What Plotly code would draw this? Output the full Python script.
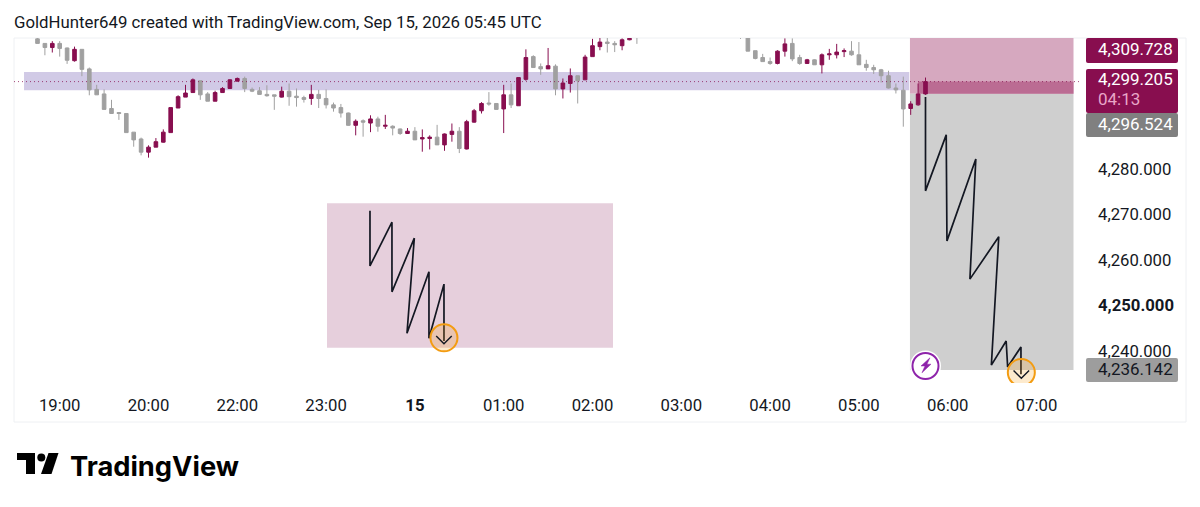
import plotly.graph_objects as go

W, H = 1200, 507
FONT = "Roboto"
INK = "#131722"
MAROON = "#880E4F"
GRAY = "#A0A0A0"

bar_index = list(range(1, 83)) + list(range(96, 122))
opens = [4308.6,4307.6,4306.7,4307.6,4306.6,4303.8,4306.3,4302.0,4297.5,4296.5,4293.3,4292.4,4292.2,4288.1,4286.6,4283.7,4284.8,4285.9,4288.0,4293.4,
         4295.8,4296.8,4299.4,4296.5,4294.9,4296.8,4297.7,4299.3,4299.9,4297.5,4297.2,4296.4,4296.3,4295.8,4297.1,4296.0,4295.7,4295.5,4296.4,4295.5,
         4294.1,4293.5,4292.3,4289.6,4290.6,4290.1,4291.0,4289.4,4289.4,4288.8,4287.8,4288.3,4286.6,4286.7,4287.0,4285.3,4287.6,4288.3,4284.4,4290.3,
         4292.8,4294.5,4294.4,4293.2,4296.3,4293.9,4299.7,4304.7,4302.5,4302.0,4302.6,4297.6,4298.8,4300.5,4299.6,4304.7,4306.9,4307.9,4307.6,4307.1,
         4308.4,4310.0,
         4311.0,4309.5,4306.0,4304.5,4303.6,4303.2,4305.9,4307.6,4304.5,4303.2,4304.0,4302.9,4305.1,4305.1,4305.8,4305.9,4305.1,4303.0,4302.3,4301.8,
         4300.5,4297.8,4297.3,4293.3,4294.1,4296.5]
highs = [4308.9,4307.6,4308.1,4308.1,4306.7,4306.9,4306.3,4302.3,4298.5,4297.5,4295.2,4292.5,4292.2,4288.1,4286.9,4285.2,4286.8,4288.7,4293.5,4296.2,
         4298.5,4299.9,4299.4,4296.9,4297.2,4298.0,4299.7,4300.1,4300.3,4297.9,4298.0,4298.4,4296.3,4298.1,4298.8,4297.7,4296.1,4298.5,4297.4,4297.5,
         4294.6,4294.3,4292.4,4290.9,4290.9,4291.8,4291.5,4291.9,4289.6,4288.9,4289.0,4289.2,4288.7,4287.4,4289.7,4287.8,4290.0,4289.2,4290.8,4293.2,
         4294.7,4296.9,4294.4,4298.5,4298.8,4300.1,4306.3,4305.0,4303.2,4306.6,4303.0,4299.9,4302.1,4300.5,4305.1,4308.6,4309.0,4309.2,4308.1,4308.7,
         4308.9,4311.0,
         4312.0,4310.0,4306.0,4305.3,4304.5,4306.1,4308.7,4308.7,4305.1,4304.2,4304.1,4305.4,4306.4,4307.5,4306.5,4308.1,4307.9,4304.0,4302.9,4302.0,
         4301.6,4298.8,4300.3,4294.9,4298.8,4300.1]
lows = [4307.6,4305.0,4305.6,4304.7,4303.1,4303.6,4300.4,4296.2,4296.3,4293.1,4292.1,4290.8,4288.0,4284.9,4283.0,4282.5,4284.8,4285.8,4288.0,4293.4,
        4295.8,4296.8,4295.2,4294.9,4294.9,4296.8,4297.7,4299.3,4296.9,4296.9,4296.4,4295.9,4293.0,4295.7,4293.9,4293.7,4294.6,4294.1,4293.4,4293.3,
        4292.6,4291.3,4289.5,4287.4,4287.1,4288.1,4288.2,4288.8,4287.4,4287.5,4287.7,4286.4,4283.8,4284.3,4285.3,4284.0,4286.0,4283.5,4284.3,4290.2,
        4292.2,4293.9,4293.1,4287.9,4293.4,4293.9,4299.4,4302.3,4300.7,4302.0,4296.2,4295.5,4296.8,4294.4,4299.6,4304.7,4306.1,4305.6,4305.7,4306.1,
        4308.3,4307.5,
        4308.6,4305.9,4304.1,4303.6,4302.9,4303.0,4304.7,4303.7,4302.9,4303.1,4302.9,4301.0,4304.0,4304.3,4304.6,4304.9,4302.9,4301.6,4300.9,4299.0,
        4297.7,4296.6,4289.3,4291.9,4293.9,4296.3]
closes = [4307.6,4306.7,4307.6,4306.5,4303.9,4306.3,4301.9,4297.4,4296.3,4293.1,4292.2,4292.2,4288.0,4286.4,4283.7,4284.8,4286.0,4288.1,4293.5,4295.9,
          4296.7,4299.6,4296.3,4294.9,4296.8,4297.7,4299.6,4299.9,4297.7,4297.1,4296.4,4296.1,4296.0,4297.1,4295.9,4295.7,4295.3,4296.4,4295.5,4294.1,
          4293.4,4292.3,4289.6,4290.5,4290.3,4291.0,4289.4,4289.6,4289.0,4287.8,4288.3,4286.4,4286.9,4287.0,4285.3,4287.7,4288.3,4284.5,4290.4,4292.8,
          4294.4,4294.3,4293.1,4296.3,4294.1,4300.1,4304.5,4302.3,4302.0,4302.7,4297.6,4298.9,4300.5,4299.4,4304.6,4307.1,4307.9,4307.6,4307.3,4308.4,
          4308.7,4309.2,
          4310.0,4305.9,4304.3,4303.6,4303.2,4305.9,4307.5,4304.2,4303.2,4304.0,4302.9,4305.1,4305.3,4305.7,4306.0,4305.1,4302.9,4302.3,4301.8,4300.5,
          4297.8,4297.4,4293.2,4294.3,4296.5,4299.2]

tick_index = [4, 16, 28, 40, 52, 64, 76, 88, 100, 112, 124, 136]
tick_labels = ["19:00", "20:00", "22:00", "23:00", "<b>15</b>", "01:00", "02:00", "03:00", "04:00", "05:00", "06:00", "07:00"]
price_ticks = [4280, 4270, 4260, 4250, 4240]
price_labels = ["4,280.000", "4,270.000", "4,260.000", "<b>4,250.000</b>", "4,240.000"]

last_price = 4299.205
entry_price = 4296.524
stop_price = 4309.728
target_edge = 4235.8

left_zig_x = [45.93, 45.93, 48.9, 48.9, 51.92, 50.93, 53.9, 53.9, 55.93, 55.93]
left_zig_y = [4270.8, 4258.7, 4268.3, 4253.0, 4264.8, 4243.9, 4257.4, 4242.8, 4254.7, 4242.2]
right_zig_x = [121, 121, 123.8, 123.9, 127.8, 127.0, 130.9, 129.9, 131.9, 132.1, 133.9, 133.9]
right_zig_y = [4295.8, 4275.2, 4287.5, 4264.2, 4282.2, 4255.8, 4265.1, 4236.9, 4242.2, 4236.5, 4240.9, 4234.9]
signal_x = [55.93, 133.95]
signal_y = [4242.9, 4235.3]
bolt_x = [121.6, 120.39, 120.93, 120.52, 121.74, 121.2, 121.6]
bolt_y = [4238.5, 4236.7, 4236.7, 4235.2, 4237.1, 4237.1, 4238.5]


def px(x):
    return x / W


def py(y):
    return 1 - y / H


L, R, T, B = 14, 1080, 38, 383
x_lo = 4 + (L - 59.7) / 7.4
x_hi = 4 + (R - 59.7) / 7.4
y_hi = 4280 + (169 - T) / 4.55
y_lo = 4280 + (169 - B) / 4.55

fig = go.Figure()
fig.add_trace(go.Candlestick(
    x=bar_index, open=opens, high=highs, low=lows, close=closes,
    increasing=dict(line=dict(color=MAROON, width=1), fillcolor=MAROON),
    decreasing=dict(line=dict(color=GRAY, width=1), fillcolor=GRAY),
    whiskerwidth=0, hoverinfo="skip",
))
line = dict(color=INK, width=1.7)
fig.add_trace(go.Scatter(x=left_zig_x, y=left_zig_y, mode="lines", line=line, hoverinfo="skip"))
fig.add_trace(go.Scatter(x=right_zig_x, y=right_zig_y, mode="lines", line=line, hoverinfo="skip"))
fig.add_trace(go.Scatter(x=signal_x, y=signal_y, mode="markers", hoverinfo="skip",
                         marker=dict(size=27, color="rgba(245,158,28,0.22)", line=dict(color="#F39C12", width=2))))
for sx, sy in zip(signal_x, signal_y):
    fig.add_trace(go.Scatter(x=[sx - 1.05, sx, sx + 1.05], y=[sy + 0.4, sy - 1.3, sy + 0.4], mode="lines",
                             line=dict(color=INK, width=1.4), hoverinfo="skip"))
fig.add_trace(go.Scatter(x=[121], y=[4236.7], mode="markers", hoverinfo="skip",
                         marker=dict(size=31, color="#FFFFFF", line=dict(width=0))))
fig.add_trace(go.Scatter(x=[121], y=[4236.7], mode="markers", hoverinfo="skip",
                         marker=dict(size=26, color="#FFFFFF", line=dict(color="#8E24AA", width=2))))
fig.add_trace(go.Scatter(x=bolt_x, y=bolt_y, mode="lines", fill="toself", fillcolor="#8E24AA",
                         line=dict(color="#8E24AA", width=0.5), hoverinfo="skip"))


def round_rect(x0, y0, x1, y1, color, r=2):
    path = ("M {a} {t} L {b} {t} Q {c} {t} {c} {u} L {c} {v} Q {c} {e} {b} {e} "
            "L {a} {e} Q {d} {e} {d} {v} L {d} {u} Q {d} {t} {a} {t} Z").format(
        a=px(x0 + r), b=px(x1 - r), c=px(x1), d=px(x0),
        t=py(y0), u=py(y0 + r), v=py(y1 - r), e=py(y1))
    return dict(type="path", xref="paper", yref="paper", path=path, fillcolor=color, line_width=0, layer="above")


shapes = [
    dict(type="rect", xref="paper", yref="paper", x0=px(14), x1=px(1186), y0=py(38), y1=py(422),
         line=dict(color="#EEF0F3", width=1), layer="below"),
    dict(type="rect", x0=-0.82, x1=118.8, y0=4297.3, y1=4301.3, fillcolor="#D1CAE6", line_width=0, layer="below"),
    dict(type="rect", x0=40.12, x1=78.77, y0=4240.7, y1=4272.5, fillcolor="#E6CFDC", line_width=0, layer="below"),
    dict(type="rect", x0=118.9, x1=141.0, y0=entry_price, y1=stop_price, fillcolor="#D6A8BF", line_width=0, layer="below"),
    dict(type="rect", x0=118.9, x1=141.0, y0=target_edge, y1=entry_price, fillcolor="#CFCFCF", line_width=0, layer="below"),
    dict(type="rect", x0=120, x1=141.0, y0=entry_price, y1=last_price, fillcolor="#BB6C93", line_width=0, layer="below"),
    dict(type="line", x0=x_lo, x1=x_hi, y0=last_price, y1=last_price,
         line=dict(color="rgba(136,14,79,0.75)", width=1, dash="1px,3px")),
    # logo mark
    dict(type="path", xref="paper", yref="paper", fillcolor="#000000", line_width=0,
         path="M {} {} L {} {} L {} {} L {} {} L {} {} L {} {} Z".format(
             px(17), py(453), px(35), py(453), px(35), py(474), px(26), py(474), px(26), py(460), px(17), py(460))),
    dict(type="circle", xref="paper", yref="paper", fillcolor="#000000", line_width=0,
         x0=px(37.3), x1=px(45.3), y0=py(461.5), y1=py(453.5)),
    dict(type="path", xref="paper", yref="paper", fillcolor="#000000", line_width=0,
         path="M {} {} L {} {} L {} {} L {} {} Z".format(
             px(48.5), py(453), px(58.5), py(453), px(51.5), py(474), px(41), py(474))),
    round_rect(1086, 38, 1178, 63, MAROON),
    round_rect(1086, 69, 1178, 113, MAROON),
    round_rect(1086, 113, 1178, 137, "#808080"),
    round_rect(1086, 358, 1178, 382, "rgba(140,140,140,0.85)"),
]


def badge_text(text, y, color="#FFFFFF"):
    return dict(xref="paper", yref="paper", x=px(1175), y=py(y), xanchor="right", yanchor="middle",
                text=text, showarrow=False, font=dict(family=FONT, size=17, color=color))


annotations = [
    dict(xref="paper", yref="paper", x=px(12), y=py(22), xanchor="left", yanchor="middle", showarrow=False,
         text="GoldHunter649 created with TradingView.com, Sep 15, 2026 05:45 UTC",
         font=dict(family=FONT, size=16.8, color=INK)),
    dict(xref="paper", yref="paper", x=px(68), y=py(466), xanchor="left", yanchor="middle", showarrow=False,
         text="<b>TradingView</b>", font=dict(family="Inter", size=27.3, color="#000000")),
    badge_text("4,309.728", 49.5),
    badge_text("4,299.205", 79),
    dict(xref="paper", yref="paper", x=px(1096), y=py(99), xanchor="left", yanchor="middle", showarrow=False,
         text="04:13", font=dict(family=FONT, size=17, color="#E8A6C8")),
    badge_text("4,296.524", 124),
    badge_text("4,236.142", 368.5, INK),
]

fig.update_layout(
    width=W, height=H, autosize=False, margin=dict(l=0, r=0, t=0, b=0),
    paper_bgcolor="#FFFFFF", plot_bgcolor="#FFFFFF", showlegend=False, hovermode=False,
    font=dict(family=FONT, size=16.7, color=INK),
    shapes=shapes, annotations=annotations,
    xaxis=dict(domain=[px(L), px(R)], range=[x_lo, x_hi], rangeslider=dict(visible=False),
               tickmode="array", tickvals=tick_index, ticktext=tick_labels, ticks="", showgrid=False,
               zeroline=False, showline=False, ticklabelstandoff=10, anchor="y"),
    yaxis=dict(domain=[py(B), py(T)], range=[y_lo, y_hi], side="right",
               tickmode="array", tickvals=price_ticks, ticktext=price_labels, ticks="", showgrid=False,
               zeroline=False, showline=False, ticklabelstandoff=17, anchor="x"),
)

fig.write_html("out.html", config=dict(displayModeBar=False),
               post_script="document.body.style.margin='0';")
